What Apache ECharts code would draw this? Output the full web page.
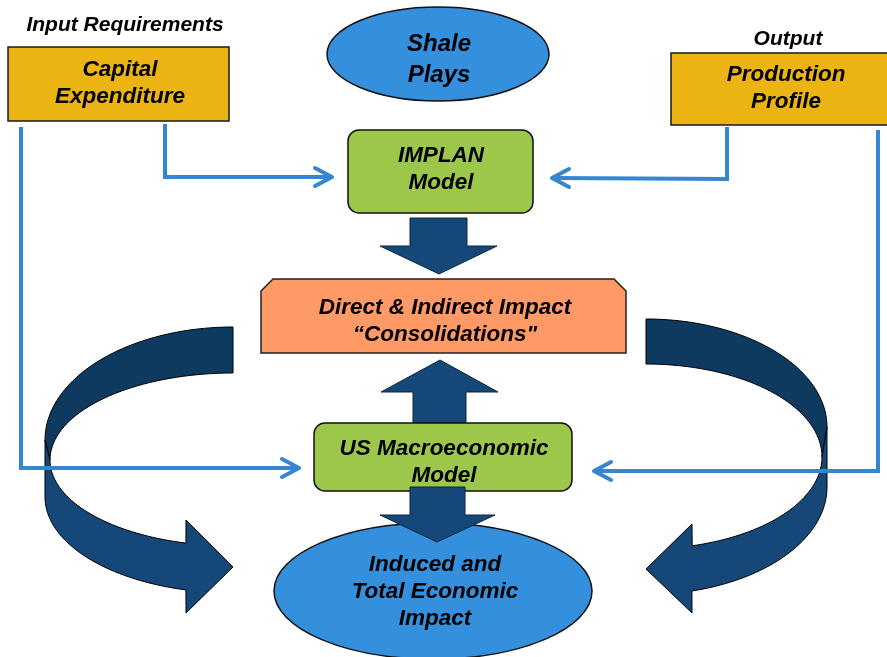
<!DOCTYPE html>
<html>
<head>
<meta charset="utf-8">
<script src="https://cdn.jsdelivr.net/npm/echarts@6/dist/echarts.min.js"></script>
<style>
  html, body { margin: 0; padding: 0; background: #fff; }
  #main { width: 887px; height: 657px; }
</style>
</head>
<body>
<div id="main"></div>
<script>
// labels of the diagram
var headers = ['Input Requirements', 'Output'];
var inputs = ['Capital\nExpenditure', 'Production\nProfile'];
var source = ['Shale\nPlays'];
var models = ['IMPLAN\nModel', 'US Macroeconomic\nModel'];
var impacts = ['Direct & Indirect Impact\n\u201cConsolidations"', 'Induced and\nTotal Economic\nImpact'];

var gold = '#ebb413', green = '#9dc74b', orange = '#ff9966', blue = '#348fdd';
var line = '#3486d1', navy = '#154878', navyDark = '#0f3a5f';

// points along an ellipse arc (angles in degrees, y axis down)
function arc(cx, cy, rx, ry, a0, a1) {
    var pts = [], n = 40;
    for (var i = 0; i <= n; i++) {
        var a = (a0 + (a1 - a0) * i / n) * Math.PI / 180;
        pts.push([cx + rx * Math.cos(a), cy + ry * Math.sin(a)]);
    }
    return pts;
}

function label(text, x, y, size, lh) {
    return {
        type: 'text', z: 20,
        style: {
            text: text, x: x, y: y,
            font: 'italic bold ' + (size || 22.5) + 'px "Liberation Sans", Arial, sans-serif',
            fill: '#000', textAlign: 'center', textVerticalAlign: 'middle',
            lineHeight: lh || 27
        }
    };
}

function thinLine(pts) {
    return {
        type: 'polyline', z: 10,
        shape: { points: pts },
        style: { stroke: line, lineWidth: 4, fill: null, lineJoin: 'miter' }
    };
}
function chevron(pts) {
    return {
        type: 'polyline', z: 10,
        shape: { points: pts },
        style: { stroke: line, lineWidth: 4, fill: null, lineCap: 'round', lineJoin: 'round' }
    };
}

// big curved arrows
var leftBack = arc(233, 440, 188, 113, 270, 180).concat(arc(233, 460, 183, 87, 180, 270));
var leftFront = [[45, 440]]
    .concat(arc(233, 497, 188, 96, 180, 104.5))
    .concat([[186, 613], [233, 567], [186, 520]])
    .concat(arc(233, 460, 183, 86, 104.9, 180));
var rightBack = arc(646, 427, 181, 108, 270, 360).concat(arc(646, 457, 176, 93, 360, 270));
var rightFront = [[827, 427]]
    .concat(arc(646, 487, 181, 107.5, 0, 75.3))
    .concat([[692, 613], [646, 569], [692, 524]])
    .concat(arc(646, 457, 176, 92, 74.8, 0));

var arrowStyle = { fill: navy, stroke: '#0a2540', lineWidth: 1 };

var elements = [
    // curved arrows
    { type: 'polygon', z: 1, shape: { points: leftBack }, style: { fill: navyDark, stroke: '#000', lineWidth: 1 } },
    { type: 'polygon', z: 2, shape: { points: leftFront }, style: { fill: navy, stroke: '#000', lineWidth: 1 } },
    { type: 'polygon', z: 1, shape: { points: rightBack }, style: { fill: navyDark, stroke: '#000', lineWidth: 1 } },
    { type: 'polygon', z: 2, shape: { points: rightFront }, style: { fill: navy, stroke: '#000', lineWidth: 1 } },

    // input boxes
    { type: 'rect', z: 5, shape: { x: 8, y: 47, width: 221, height: 74 }, style: { fill: gold, stroke: '#1a1a1a', lineWidth: 1.5 } },
    { type: 'rect', z: 5, shape: { x: 671, y: 53, width: 220, height: 72 }, style: { fill: gold, stroke: '#1a1a1a', lineWidth: 1.5 } },

    // shale plays
    { type: 'ellipse', z: 5, shape: { cx: 438, cy: 54, rx: 111, ry: 47 }, style: { fill: blue, stroke: '#111', lineWidth: 1.5 } },

    // IMPLAN
    { type: 'rect', z: 5, shape: { x: 348, y: 130, width: 185, height: 83, r: 11 }, style: { fill: green, stroke: '#111', lineWidth: 1.5 } },
    // arrow IMPLAN -> Direct
    { type: 'polygon', z: 5, shape: { points: [[410, 218], [467, 218], [467, 246], [497, 246], [439, 274], [380, 246], [410, 246]] }, style: arrowStyle },

    // Direct & Indirect box with snipped top corners
    { type: 'polygon', z: 5, shape: { points: [[273, 279], [614, 279], [626, 291], [626, 353], [261, 353], [261, 291]] }, style: { fill: orange, stroke: '#222', lineWidth: 1.5 } },

    // arrow Macro -> Direct
    { type: 'polygon', z: 5, shape: { points: [[440, 360], [498, 392], [466, 392], [466, 426], [413, 426], [413, 392], [381, 392]] }, style: arrowStyle },

    // US Macro
    { type: 'rect', z: 6, shape: { x: 314, y: 423, width: 258, height: 68, r: 11 }, style: { fill: green, stroke: '#111', lineWidth: 1.5 } },

    // induced ellipse
    { type: 'ellipse', z: 6, shape: { cx: 433, cy: 591, rx: 159, ry: 68 }, style: { fill: blue, stroke: '#111', lineWidth: 1.5 } },

    // arrow Macro -> Induced
    { type: 'polygon', z: 7, shape: { points: [[410, 487], [465, 487], [465, 515], [495, 515], [437, 542], [380, 515], [410, 515]] }, style: arrowStyle },

    // thin connectors
    thinLine([[21, 127], [21, 468], [298, 468]]),
    chevron([[282, 459], [299, 468], [282, 477]]),
    thinLine([[165, 124], [165, 177], [331, 177]]),
    chevron([[315, 168], [332, 177], [315, 186]]),
    thinLine([[727, 127], [727, 179], [553, 178]]),
    chevron([[569, 169], [552, 178], [569, 187]]),
    thinLine([[878, 130], [878, 471], [595, 471]]),
    chevron([[611, 462], [594, 471], [611, 480]]),

    // texts
    label(headers[0], 125, 25, 21),
    label(headers[1], 788, 39, 21),
    label(inputs[0], 120, 83),
    label(inputs[1], 786, 88),
    label(source[0], 439, 60, 24, 31),
    label(models[0], 441, 169),
    label(models[1], 444, 462),
    label(impacts[0], 445, 321),
    label(impacts[1], 435, 592)
];

var myChart = echarts.init(document.getElementById('main'), null, { renderer: 'canvas' });
var option = {
    backgroundColor: '#fff',
    animation: false,
    graphic: { elements: elements }
};
myChart.setOption(option);
</script>
</body>
</html>
